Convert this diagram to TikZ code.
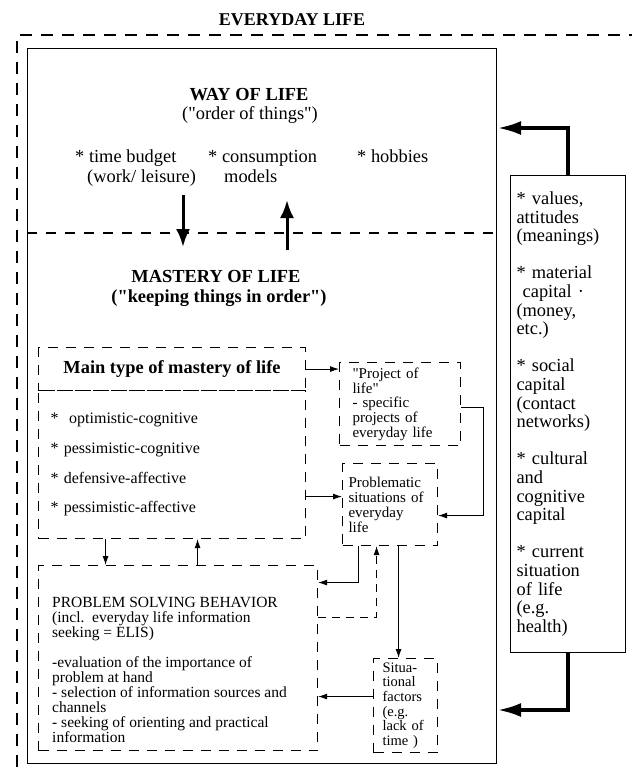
\documentclass[tikz,border=0pt]{standalone}
\usepackage{fontspec}
\setmainfont{Liberation Serif}[Ligatures=TeXOff]
\usetikzlibrary{arrows.meta,positioning}

\newcommand\fsz[2]{\fontsize{#1}{#2}\selectfont}

\tikzset{
  dbox/.style={draw, dash pattern=on 10pt off 8pt, line width=1.1pt, inner sep=0pt},
  sbox/.style={draw, line width=1.1pt, inner sep=0pt},
  lbl/.style={inner sep=0pt},
  thinarrow/.style={-{Latex[length=9pt,width=6pt]}, line width=0.9pt},
  midarrow/.style={-{Latex[length=18pt,width=14pt]}, line width=3pt},
  bigarrow/.style={-{Latex[length=24pt,width=14pt]}, line width=4pt},
}

\begin{document}
\begin{tikzpicture}[x=1pt,y=-1pt]
		\useasboundingbox (0,0) rectangle (632,769);
		
		\node [lbl, font=\fsz{18}{20}\bfseries] (everyday) at (292,20) {EVERYDAY LIFE};
		\draw [line width=1.4pt, dash pattern=on 12pt off 9pt] (17,767) -- (17,35) -- (632,35);
		
		\node [sbox, anchor=north west, minimum width=469pt, minimum height=715pt] (life) at (27,48) {};
		\draw [line width=1.1pt, dash pattern=on 10pt off 9pt] (life.west |- 0,233) -- (life.east |- 0,233);
		
		% way of life
		\node [lbl, font=\fsz{18.4}{20}\bfseries] (way) at (249,95) {WAY OF LIFE};
		\node [lbl, font=\fsz{18.4}{20}] (order) at (250,115) {("order of things")};
		\node [lbl, anchor=north west, align=left, font=\fsz{18.4}{20}] (budget) at (75,150) {* time budget\\\hspace*{12pt}(work/ leisure)};
		\node [lbl, anchor=north west, align=left, font=\fsz{18.4}{20}] (consum) at (208,150) {* consumption\\\hspace*{16pt}models};
		\node [lbl, anchor=north west, font=\fsz{18.4}{20}] (hobby) at (357,150) {* hobbies};
		
		\coordinate (dn1) at (183,195);
		\coordinate (dn2) at (183,247);
		\coordinate (up1) at (287,250);
		\coordinate (up2) at (287,200);
		\draw [midarrow] (dn1) -- (dn2);
		\draw [midarrow] (up1) -- (up2);
		
		% mastery of life
		\node [lbl, font=\fsz{18.4}{20}\bfseries] (mastery) at (216,276) {MASTERY OF LIFE};
		\node [lbl, font=\fsz{18.4}{20}\bfseries] (keeping) at (219,298) {("keeping things in order")};
		
		\node [dbox, anchor=north west, minimum width=267pt, minimum height=43pt, font=\fsz{18.4}{20}\bfseries] (maintype) at (38,347) {Main type of mastery of life};
		\node [dbox, anchor=north west, minimum width=267pt, minimum height=148pt, text width=243pt, align=left, font=\fsz{16}{29.7}] (types) at (38,390) {{*}\ \ optimistic-cognitive\\{*} pessimistic-cognitive\\{*} defensive-affective\\{*} pessimistic-affective};
		
		\node [dbox, anchor=north west, minimum width=121pt, minimum height=83pt, text width=95pt, align=left, font=\fsz{15}{14.7}] (project) at (339,362) {"Project of\\life"\\- specific\\projects of\\everyday life};
		\node [dbox, anchor=north west, minimum width=95pt, minimum height=82pt, text width=83pt, align=left, font=\fsz{15}{15}] (problem) at (342,463) {Problematic\\situations of\\everyday\\life};
		\node [dbox, anchor=north west, minimum width=64pt, minimum height=94pt, text width=46pt, align=left, font=\fsz{14.5}{14.6}] (situ) at (373,658) {Situa-\\tional\\factors\\(e.g.\\lack of\\time )};
		
		\node [dbox, anchor=north west, minimum width=279pt, minimum height=185pt] (psb) at (38,565) {};
		\node [lbl, anchor=north west, align=left, font=\fsz{15.5}{15}] (psbtext) at (52,597) {PROBLEM SOLVING BEHAVIOR\\(incl.\ \ everyday life information\\seeking = ELIS)\\[15pt]-evaluation of the importance of\\problem at hand\\- selection of information sources and\\channels\\- seeking of orienting and practical\\information};
		
		% resources
		\node [sbox, anchor=north west, minimum width=115pt, minimum height=477pt, text width=103pt, align=left, font=\fsz{18.4}{18.6}] (rbox) at (510,175) {* values,\\attitudes\\(meanings)\\[18.6pt]* material\\\ capital ·\\(money,\\etc.)\\[18.6pt]* social\\capital\\(contact\\networks)\\[18.6pt]* cultural\\and\\cognitive\\capital\\[18.6pt]* current\\situation\\of life\\(e.g.\\health)};
		
		\coordinate (wtop) at (life.east |- 0,128);
		\coordinate (wbot) at (life.east |- 0,710);
		\draw [bigarrow] (rbox.north) |- (wtop);
		\draw [bigarrow] (rbox.south) |- (wbot);
		
		% connectors
		\coordinate (pin) at ([yshift=8pt]problem.west);
		\coordinate (pdn) at ([xshift=-31.5pt]problem.south);
		\coordinate (pup) at ([xshift=-13.5pt]problem.south);
		\coordinate (pst) at ([xshift=8.5pt]problem.south);
		\coordinate (sin) at ([yshift=9pt]situ.west);
		\coordinate (tdn) at ([xshift=-66.5pt]types.south);
		\coordinate (tup) at ([xshift=25.5pt]types.south);
		
		\draw [thinarrow] (maintype.east) -- (maintype.east -| project.west);
		\draw [thinarrow] (pin -| types.east) -- (pin);
		\draw [thinarrow] ([yshift=-3.5pt]project.east) -- ++(22,0) |- ([yshift=-11pt]problem.east);
		\draw [thinarrow] (pdn) |- ([yshift=75.5pt]psb.east);
		\draw [thinarrow, dash pattern=on 8pt off 6pt] ([yshift=40.5pt]psb.east) -| (pup);
		\draw [thinarrow] (pst) -- (pst |- situ.north);
		\draw [thinarrow] (sin) -- (sin -| psb.east);
		\draw [thinarrow] (tdn) -- (tdn |- psb.north);
		\draw [thinarrow] (tup |- psb.north) -- (tup);
\end{tikzpicture}
\end{document}
